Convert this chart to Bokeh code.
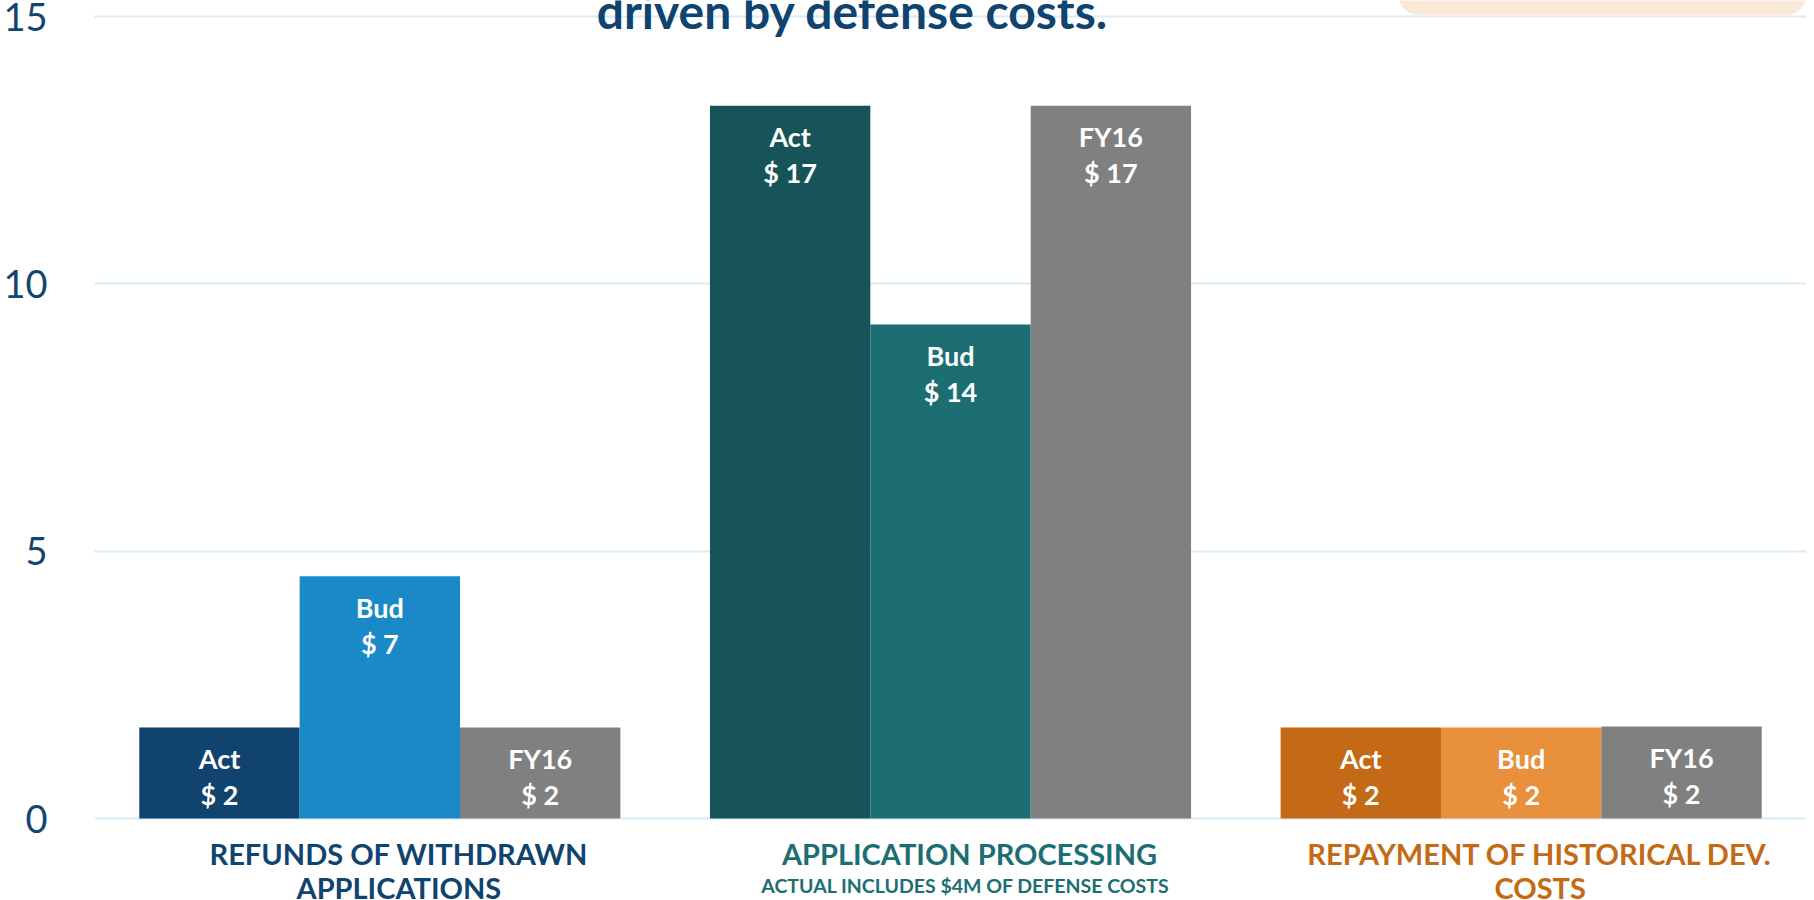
from bokeh.plotting import figure
from bokeh.models import ColumnDataSource, FactorRange, Range1d, FixedTicker, BoxAnnotation
from bokeh.transform import dodge
from bokeh.core.properties import value
from bokeh.embed import file_html
from bokeh.resources import INLINE

# ---- data ----
categories = ["Refunds of Withdrawn Applications", "Application Processing", "Repayment of Historical Dev. Costs"]
act_heights = [1.70, 13.33, 1.70]
bud_heights = [4.53, 9.24, 1.70]
fy16_heights = [1.70, 13.33, 1.72]
act_labels = ["$ 2", "$ 17", "$ 2"]
bud_labels = ["$ 7", "$ 14", "$ 2"]
fy16_labels = ["$ 2", "$ 17", "$ 2"]
series_names = ["Act", "Bud", "FY16"]
cat_line1 = ["REFUNDS OF WITHDRAWN", "APPLICATION PROCESSING", "REPAYMENT OF HISTORICAL DEV."]
cat_line2 = ["APPLICATIONS", "", "COSTS"]
subtitle = "ACTUAL INCLUDES $4M OF DEFENSE COSTS"
title_text = "driven by defense costs."
y_ticks = [0, 5, 10, 15]

# ---- styles ----
act_colors = ["#10436e", "#17545a", "#c46a16"]
bud_colors = ["#1b88c8", "#1c6e73", "#e8903c"]
fy16_colors = ["#808080", "#808080", "#808080"]
cat_colors = ["#0f4470", "#1c6e73", "#c46a16"]
NAVY = "#134571"
FONT = "Lato"
BW = 0.281

src = ColumnDataSource(dict(
    cat=categories, act=act_heights, bud=bud_heights, fy16=fy16_heights,
    act_lbl=act_labels, bud_lbl=bud_labels, fy16_lbl=fy16_labels,
    act_c=act_colors, bud_c=bud_colors, fy16_c=fy16_colors,
    cat_c=cat_colors, l1=cat_line1, l2=cat_line2, zero=[0, 0, 0],
))

p = figure(width=1814, height=900, x_range=FactorRange(*categories, range_padding=0),
           y_range=Range1d(-1.5336, 15.2992), output_backend="svg", toolbar_location=None,
           x_axis_location=None, min_border_left=93, min_border_right=8,
           min_border_top=0, min_border_bottom=0)
p.outline_line_color = None
p.background_fill_color = "white"
p.border_fill_color = "white"
p.xgrid.grid_line_color = None
p.ygrid.ticker = FixedTicker(ticks=y_ticks)
p.ygrid.grid_line_color = "#d8ebf7"
p.ygrid.grid_line_width = 2

ax = p.yaxis[0]
ax.ticker = FixedTicker(ticks=y_ticks)
ax.axis_line_color = None
ax.major_tick_line_color = None
ax.minor_tick_line_color = None
ax.major_label_standoff = 41
ax.major_label_text_font = FONT
ax.major_label_text_font_size = "38px"
ax.major_label_text_color = NAVY

# peach box at top right (cropped shape)
p.add_layout(BoxAnnotation(left=2.2855, right=3.0, bottom=15.027, top=16.5,
                           fill_color="#fbe9d8", fill_alpha=1, line_color=None,
                           border_radius=20, level="underlay"))

# cropped title (upper part lies outside the picture, as in the reference)
t_src = ColumnDataSource(dict(cat=[categories[1]], y=[15], t=[title_text]))
p.text(x="cat", y="y", text="t", source=t_src, x_offset=-98, y_offset=-6,
       text_align="center", text_baseline="alphabetic", text_color="#0f4470",
       text_font=value(FONT), text_font_style="bold", text_font_size="48px")

offsets = [-BW, 0.0, BW]
cols = ["act", "bud", "fy16"]
lbls = ["act_lbl", "bud_lbl", "fy16_lbl"]
ccols = ["act_c", "bud_c", "fy16_c"]
for off, col, lbl, cc, name in zip(offsets, cols, lbls, ccols, series_names):
    xd = dodge("cat", off, range=p.x_range)
    p.vbar(x=xd, top=col, width=BW, source=src, fill_color=cc, line_color=None)
    p.text(x=xd, y=col, text=value(name), source=src, y_offset=31,
           text_align="center", text_baseline="middle", text_color="white",
           text_font=value(FONT), text_font_style="bold", text_font_size="27px")
    p.text(x=xd, y=col, text=lbl, source=src, y_offset=67,
           text_align="center", text_baseline="middle", text_color="white",
           text_font=value(FONT), text_font_style="bold", text_font_size="27px")

# category labels
p.text(x="cat", y="zero", text="l1", source=src, x_offset=19, y_offset=35,
       text_align="center", text_baseline="middle", text_color="cat_c",
       text_font=value(FONT), text_font_style="bold", text_font_size="29px")
p.text(x="cat", y="zero", text="l2", source=src, x_offset=19, y_offset=69,
       text_align="center", text_baseline="middle", text_color="cat_c",
       text_font=value(FONT), text_font_style="bold", text_font_size="29px")
sub_src = ColumnDataSource(dict(cat=[categories[1]], zero=[0], t=[subtitle]))
p.text(x="cat", y="zero", text="t", source=sub_src, x_offset=15, y_offset=67,
       text_align="center", text_baseline="middle", text_color=cat_colors[1],
       text_font=value(FONT), text_font_style="bold", text_font_size="19.5px")

open("out.html", "w").write(file_html(p, INLINE))
